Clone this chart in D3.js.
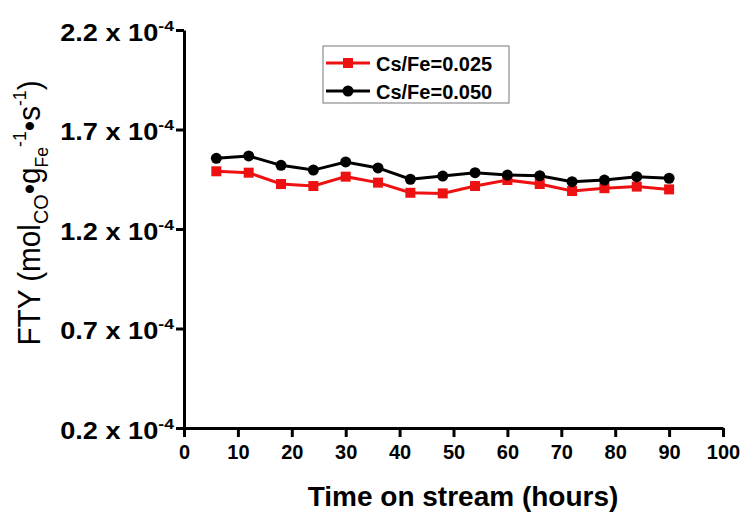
<!DOCTYPE html>
<html>
<head>
<meta charset="utf-8">
<script src="https://cdn.jsdelivr.net/npm/d3@7"></script>
<style>
  body { margin: 0; background: #fff; }
  text { font-family: Arial, "Liberation Sans", sans-serif; }
</style>
</head>
<body>
<svg id="chart" width="746" height="513"></svg>
<script>
// time on stream (hours)
const hours = [6, 12, 18, 24, 30, 36, 42, 48, 54, 60, 66, 72, 78, 84, 90]
// FTY in units of 10^-4 mol_CO g_Fe^-1 s^-1
const fty025 = [1.490, 1.483, 1.426, 1.416, 1.463, 1.433, 1.382, 1.379, 1.416, 1.446, 1.426, 1.391, 1.405, 1.413, 1.399]
const fty050 = [1.555, 1.567, 1.520, 1.496, 1.537, 1.507, 1.450, 1.466, 1.483, 1.471, 1.468, 1.438, 1.446, 1.463, 1.455]
const xTicks = [0, 10, 20, 30, 40, 50, 60, 70, 80, 90, 100]
const yTicks = [0.2, 0.7, 1.2, 1.7, 2.2]
const seriesNames = ['Cs/Fe=0.025', 'Cs/Fe=0.050']

const svg = d3.select('#chart')

const x = d3.scaleLinear().domain([0, 100]).range([184, 723])
const y = d3.scaleLinear().domain([0.2, 2.2]).range([428, 30])

// x axis
const xAxis = svg.append('g')
    .attr('transform', `translate(0,${y(0.2)})`)
    .call(d3.axisBottom(x).tickValues(xTicks).tickSize(9).tickSizeOuter(0).tickFormat(''))
xAxis.selectAll('path, line').attr('stroke', '#000').attr('stroke-width', 3)
xAxis.selectAll('.tick').append('text')
    .attr('y', 31)
    .attr('text-anchor', 'middle')
    .attr('fill', '#000')
    .style('font-size', '20px')
    .style('font-weight', 'bold')
    .text(d => d)

// y axis
const yAxis = svg.append('g')
    .attr('transform', `translate(${x(0)},0)`)
    .call(d3.axisLeft(y).tickValues(yTicks).tickSize(8).tickSizeOuter(0).tickFormat(''))
yAxis.selectAll('path, line').attr('stroke', '#000').attr('stroke-width', 3)

yTicks.forEach(function(v) {
    var t = svg.append('text')
        .attr('transform', `translate(174,${y(v) + 10.5}) scale(1.18,1)`)
        .attr('text-anchor', 'end')
        .style('font-size', '23px')
        .style('font-weight', 'bold')
    t.append('tspan').text(d3.format('.1f')(v) + ' x 10')
    t.append('tspan').attr('dy', -10).style('font-size', '15px').text('-4')
})

// axis titles
svg.append('text')
    .attr('x', 463).attr('y', 506)
    .attr('text-anchor', 'middle')
    .style('font-size', '28px')
    .style('font-weight', 'bold')
    .text('Time on stream (hours)')

var yt = svg.append('text')
    .attr('transform', 'translate(40,213) rotate(-90) scale(1.1,1.15)')
    .attr('text-anchor', 'middle')
    .style('font-size', '27px')
yt.append('tspan').text('FTY (mol')
yt.append('tspan').attr('dy', 7).style('font-size', '18px').text('CO')
yt.append('tspan').attr('dy', -7).text('•g')
yt.append('tspan').attr('dy', 7).style('font-size', '16px').text('Fe')
yt.append('tspan').attr('dy', -19).style('font-size', '16px').text('-1')
yt.append('tspan').attr('dy', 12).text('•s')
yt.append('tspan').attr('dy', -12).style('font-size', '16px').text('-1')
yt.append('tspan').attr('dy', 12).text(')')

// series
const series = [
    { name: seriesNames[0], values: fty025, color: '#ee1111', shape: 'square' },
    { name: seriesNames[1], values: fty050, color: '#000000', shape: 'circle' }
]

const line = d3.line()
    .x((d, i) => x(hours[i]))
    .y(d => y(d))

function drawMarker(g, cx, cy, s) {
    if (s.shape === 'square') {
        g.append('rect').attr('x', cx - 5).attr('y', cy - 5)
            .attr('width', 10).attr('height', 10).attr('fill', s.color)
    } else {
        g.append('circle').attr('cx', cx).attr('cy', cy).attr('r', 5.5).attr('fill', s.color)
    }
}

series.forEach(function(s) {
    svg.append('path')
        .datum(s.values)
        .attr('d', line)
        .attr('fill', 'none')
        .attr('stroke', s.color)
        .attr('stroke-width', 3)
    var g = svg.append('g')
    s.values.forEach(function(v, i) {
        drawMarker(g, x(hours[i]), y(v), s)
    })
})

// legend
const legend = svg.append('g').attr('transform', 'translate(323,46)')
legend.append('rect')
    .attr('width', 186).attr('height', 57)
    .attr('fill', '#fff').attr('stroke', '#777').attr('stroke-width', 1)
series.forEach(function(s, i) {
    var ry = 17 + i * 28
    legend.append('line')
        .attr('x1', 3).attr('x2', 47).attr('y1', ry).attr('y2', ry)
        .attr('stroke', s.color).attr('stroke-width', 3)
    drawMarker(legend, 25, ry, s)
    legend.append('text')
        .attr('x', 53).attr('y', ry + 7.5)
        .style('font-size', '20px')
        .style('font-weight', 'bold')
        .text(s.name)
})
</script>
</body>
</html>
